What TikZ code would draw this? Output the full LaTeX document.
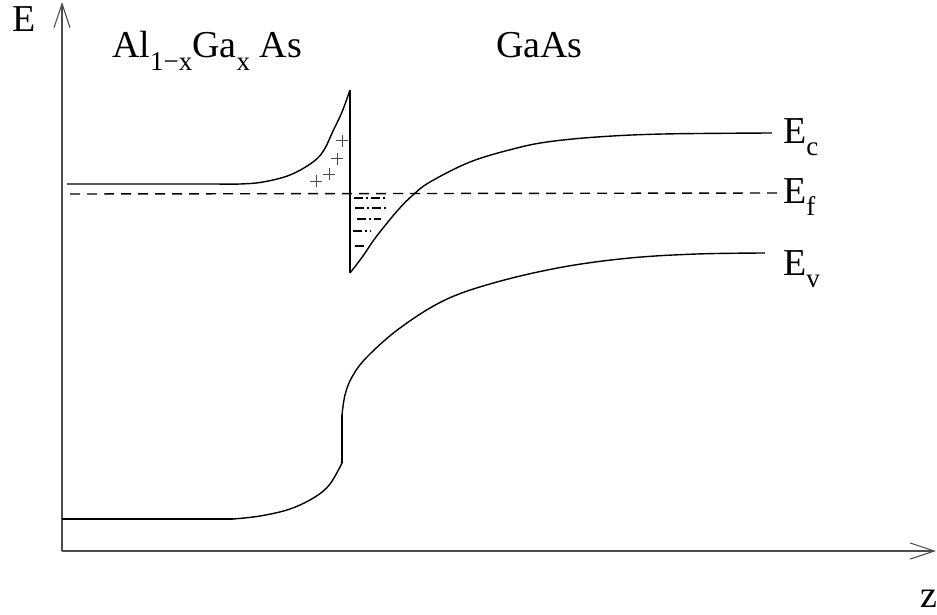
\documentclass[tikz,border=0pt]{standalone}
\usepackage{fontspec}
\setmainfont{Liberation Serif}
\usetikzlibrary{arrows.meta}
\newcommand{\lowsub}[1]{\raisebox{-0.33em}{\fontsize{27}{27}\selectfont #1}}
\tikzset{
  axisline/.style={draw=black!70, line width=1.1pt, -{Straight Barb[length=24pt,width=16pt,line width=1.1pt]}},
  band/.style={draw=black, line width=1.4pt, line join=round},
  fermi/.style={draw=black, line width=1.4pt, dash pattern=on 10pt off 7pt},
  charge/.style={draw=black, line width=1.5pt, dash pattern=on 9pt off 3pt on 2pt off 3pt},
  lbl/.style={font=\fontsize{38}{38}\selectfont, inner sep=0pt, anchor=base west},
  plusmark/.style={draw=black!70, line width=1pt}
}
\newcommand{\plusat}[1]{\draw[plusmark] ($(#1)+(-6,0)$) -- ($(#1)+(6,0)$) ($(#1)+(0,-6)$) -- ($(#1)+(0,6)$);}
\usetikzlibrary{calc}
\begin{document}
\begin{tikzpicture}[x=1pt,y=-1pt]
\useasboundingbox (0,0) rectangle (937,615);
% axes
\coordinate (O) at (62,551);
\coordinate (Ytip) at (62,2);
\coordinate (Xtip) at (936,551);
\draw[axisline] (O) -- (Ytip);
\draw[axisline] (O) -- (Xtip);
% labels
\node[lbl] (Elab) at (12,32) {E};
\node[lbl] (AlGa) at (112,58) {Al\lowsub{1−x}Ga\lowsub{x} As};
\node[lbl] (GaAs) at (496,58) {GaAs};
\node[lbl] (Ec) at (783,143) {E\lowsub{c}};
\node[lbl] (Ef) at (783,203) {E\lowsub{f}};
\node[lbl] (Ev) at (783,275) {E\lowsub{v}};
\node[lbl] (z) at (920,607) {z};
% conduction band
\coordinate (EcL) at (67,184);
\coordinate (EcK) at (217,184);
\coordinate (EcTop) at (350,90);
\coordinate (EcBot) at (350,273);
\coordinate (EcR) at (772,133);
\draw[band] (EcL) -- (EcK) plot[smooth,tension=0.6] coordinates {(217,184) (240,184) (263,182) (290,175) (313,162) (324,150) (333,131) (342,112) (350,90)};
\draw[band] (EcTop) -- (EcBot);
\draw[band] plot[smooth,tension=0.6] coordinates {(350,273) (363,256) (376,237) (398,210) (413,195) (430,182) (470,162) (513,149) (547,142) (597,137) (663,134) (772,133)};
% fermi level
\coordinate (EfL) at (70,194);
\coordinate (EfR) at (777,193);
\draw[fermi] (EfL) -- (EfR);
% valence band
\coordinate (EvL) at (62,519);
\coordinate (EvK) at (233,519);
\coordinate (EvA) at (342,463);
\coordinate (EvB) at (342,415);
\draw[band] (EvL) -- (EvK);
\draw[band] plot[smooth,tension=0.6] coordinates {(233,519) (260,516) (290,509) (315,497) (330,484) (342,463)};
\draw[band] (EvA) -- (EvB);
\draw[band] plot[smooth,tension=0.6] coordinates {(342,415) (345,395) (352,377) (367,357) (400,328) (445,300) (497,282) (563,267) (630,258) (697,254) (765,253)};
% positive charges
\coordinate (p1) at (342,141);
\coordinate (p2) at (337,159);
\coordinate (p3) at (329,174);
\coordinate (p4) at (316,181);
\plusat{p1}
\plusat{p2}
\plusat{p3}
\plusat{p4}
% negative charges (2DEG)
\coordinate (n1a) at (354,198); \coordinate (n1b) at (385,198);
\coordinate (n2a) at (355,208); \coordinate (n2b) at (387,208);
\coordinate (n3a) at (357,219); \coordinate (n3b) at (381,219);
\coordinate (n4a) at (353,231); \coordinate (n4b) at (371,231);
\coordinate (n5a) at (355,246); \coordinate (n5b) at (366,246);
\draw[charge] (n1a) -- (n1b);
\draw[charge] (n2a) -- (n2b);
\draw[charge] (n3a) -- (n3b);
\draw[charge] (n4a) -- (n4b);
\draw[charge] (n5a) -- (n5b);
\end{tikzpicture}
\end{document}
